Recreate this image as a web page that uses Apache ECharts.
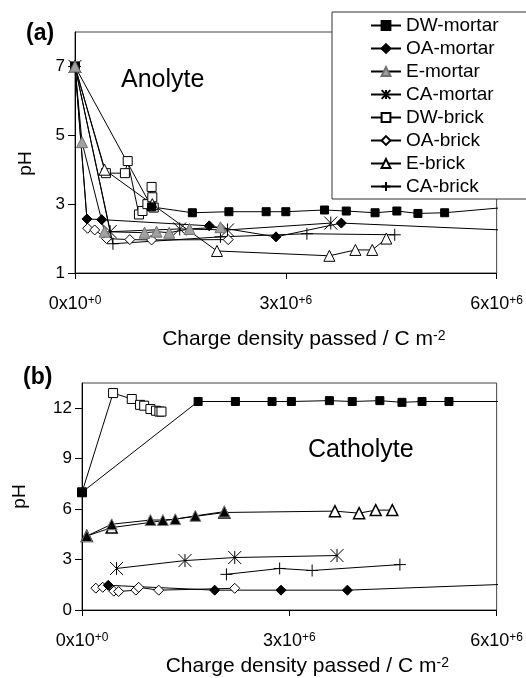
<!DOCTYPE html>
<html>
<head>
<meta charset="utf-8">
<script src="https://cdn.jsdelivr.net/npm/echarts@6/dist/echarts.min.js"></script>
<style>
  html, body { margin: 0; padding: 0; background: #fff; }
  #chart { width: 526px; height: 678px; }
</style>
</head>
<body>
<div id="chart"></div>
<script>
// x values in units of 1e6 C m^-2, y values are pH

// tick labels
const xTickBase = [0, 3, 6];
const xTickExp = ["+0", "+6", "+6"];
const yTicksA = [1, 3, 5, 7];
const yTicksB = [0, 3, 6, 9, 12];

const seriesNames = ["DW-mortar", "OA-mortar", "E-mortar", "CA-mortar", "DW-brick", "OA-brick", "E-brick", "CA-brick"];

// (a) anolyte
const dwMortarA = [[0, 7], [1.09, 2.92], [1.67, 2.75], [2.19, 2.78], [2.72, 2.78], [3.0, 2.78], [3.55, 2.83], [3.86, 2.8], [4.27, 2.75], [4.58, 2.8], [4.88, 2.73], [5.26, 2.75]];
const dwMortarATail = [6.1, 2.9];
const oaMortarA = [[0, 7], [0.17, 2.57], [0.38, 2.55], [1.91, 2.37], [2.86, 2.05], [3.79, 2.45]];
const oaMortarATail = [6.07, 2.25];
const eMortarA = [[0, 7], [0.1, 4.8], [0.42, 2.2], [0.99, 2.17], [1.16, 2.2], [1.34, 2.17], [1.63, 2.28], [2.07, 2.33]];
const caMortarA = [[0, 7], [0.5, 2.2], [1.49, 2.28], [2.17, 2.25], [3.64, 2.45]];
const dwBrickA = [[0, 7], [0.44, 3.9], [0.71, 3.9], [0.75, 4.25], [0.91, 2.7], [0.96, 2.8], [1.03, 3.0], [1.09, 3.5], [1.1, 3.2], [1.12, 2.9]];
const oaBrickA = [[0, 7], [0.18, 2.3], [0.28, 2.25], [0.45, 2.0], [0.78, 1.97], [1.09, 1.96], [2.18, 1.97]];
const eBrickA = [[0, 7], [0.42, 4.0], [1.1, 3.0], [2.02, 1.64], [3.62, 1.5], [3.99, 1.67], [4.23, 1.67], [4.43, 2.0]];
const caBrickA = [[0, 7], [0.54, 1.85], [2.07, 2.05], [3.3, 2.14], [4.55, 2.11]];

// (b) catholyte
const dwMortarB = [[0, 7], [1.68, 12.4], [2.22, 12.4], [2.75, 12.4], [3.03, 12.4], [3.58, 12.45], [3.91, 12.4], [4.31, 12.45], [4.63, 12.35], [4.92, 12.4], [5.31, 12.4]];
const dwMortarBTail = [6.14, 12.4];
const oaMortarB = [[0.38, 1.47], [1.92, 1.18], [2.88, 1.18], [3.84, 1.18]];
const oaMortarBTail = [6.13, 1.53];
const eMortarB = [[0.07, 4.4], [0.43, 5.1], [0.99, 5.35], [1.17, 5.35], [1.35, 5.4], [1.64, 5.6], [2.06, 5.85]];
const caMortarB = [[0.5, 2.47], [1.49, 2.94], [2.21, 3.12], [3.69, 3.24]];
const dwBrickB = [[0, 7], [0.45, 12.9], [0.72, 12.55], [0.84, 12.2], [0.9, 12.15], [0.99, 11.95], [1.07, 11.85], [1.12, 11.8], [1.15, 11.8]];
const oaBrickB = [[0.2, 1.3], [0.3, 1.35], [0.46, 1.12], [0.53, 1.1], [0.78, 1.18], [0.82, 1.35], [1.11, 1.18], [2.21, 1.29]];
const eBrickB = [[0.07, 4.4], [0.43, 4.9], [2.06, 5.8], [3.66, 5.88], [4.01, 5.76], [4.25, 5.94], [4.49, 5.94]];
const caBrickB = [[2.09, 2.12], [2.86, 2.47], [3.33, 2.35], [4.6, 2.7]];

const FONT = "'Liberation Sans', Arial, Helvetica, sans-serif";
const ASTERISK = "path://M0 0L12 12M12 0L0 12M6 0L6 12";
const PLUS = "path://M6 0L6 12M0 6L12 6";

const marker = {
  "DW-mortar": { symbol: "rect", symbolSize: 8, itemStyle: { color: "#000", borderColor: "#000", borderWidth: 1 } },
  "OA-mortar": { symbol: "diamond", symbolSize: 10, itemStyle: { color: "#000", borderColor: "#000", borderWidth: 1 } },
  "E-mortar": { symbol: "triangle", symbolSize: 11, itemStyle: { color: "#a0a0a0", borderColor: "#707070", borderWidth: 1 } },
  "CA-mortar": { symbol: ASTERISK, symbolSize: 13, itemStyle: { color: "#000", borderColor: "#000", borderWidth: 1 } },
  "DW-brick": { symbol: "rect", symbolSize: 9, itemStyle: { color: "#fff", borderColor: "#000", borderWidth: 1 } },
  "OA-brick": { symbol: "diamond", symbolSize: 10, itemStyle: { color: "#fff", borderColor: "#000", borderWidth: 1 } },
  "E-brick": { symbol: "triangle", symbolSize: 11, itemStyle: { color: "#fff", borderColor: "#000", borderWidth: 1 } },
  "CA-brick": { symbol: PLUS, symbolSize: 12, itemStyle: { color: "#000", borderColor: "#000", borderWidth: 1 } }
};

function makeSeries(name, data, idx, tail, styleOverride) {
  const pts = data.slice();
  if (tail) pts.push({ value: tail, symbol: "none" });
  const m = marker[name];
  return {
    name: name,
    type: "line",
    xAxisIndex: idx,
    yAxisIndex: idx,
    data: pts,
    symbol: m.symbol,
    symbolSize: m.symbolSize,
    showAllSymbol: true,
    clip: false,
    lineStyle: { color: "#000", width: 1 },
    itemStyle: styleOverride || m.itemStyle,
    emphasis: { disabled: true }
  };
}

function xAxisOpt(idx, nameGap) {
  return {
    gridIndex: idx,
    type: "value",
    min: 0,
    max: 6,
    interval: 3,
    axisLine: { lineStyle: { color: "#000", width: 1 } },
    axisTick: { inside: false, length: 6, lineStyle: { color: "#000" } },
    splitLine: { show: false },
    axisLabel: {
      margin: 22,
      color: "#000",
      fontFamily: FONT,
      formatter: function (v) {
        const i = xTickBase.indexOf(v);
        return "{b|" + v + "x10}{s|" + (i >= 0 ? xTickExp[i] : "") + "}";
      },
      rich: {
        b: { fontSize: 18, fontFamily: FONT, color: "#000" },
        s: { fontSize: 12, fontFamily: FONT, color: "#000", verticalAlign: "top" }
      }
    },
    name: "{b|Charge density passed / C m}{s|-2}",
    nameLocation: "middle",
    nameGap: nameGap,
    nameTextStyle: {
      padding: [0, 0, 0, 36],
      rich: {
        b: { fontSize: 21, fontFamily: FONT, color: "#000" },
        s: { fontSize: 14, fontFamily: FONT, color: "#000", verticalAlign: "top" }
      }
    }
  };
}

function yAxisOpt(idx, min, max, ticks, nameGap, namePad) {
  return {
    gridIndex: idx,
    type: "value",
    min: min,
    max: max,
    axisLine: { show: true, lineStyle: { color: "#000", width: 1 } },
    axisTick: { show: true, inside: false, length: 7, customValues: ticks, lineStyle: { color: "#000" } },
    splitLine: { show: false },
    axisLabel: { customValues: ticks, margin: 10, color: "#000", fontSize: 17, fontFamily: FONT },
    name: "pH",
    nameLocation: "middle",
    nameGap: nameGap,
    nameTextStyle: { color: "#000", fontSize: 19, fontFamily: FONT, padding: namePad }
  };
}

const chart = echarts.init(document.getElementById("chart"), null, { renderer: "canvas" });
chart.setOption({
  animation: false,
  backgroundColor: "#fff",
  textStyle: { fontFamily: FONT },
  grid: [
    { left: 75, top: 32, width: 424, height: 241, show: true, borderColor: "#444", borderWidth: 1 },
    { left: 82, top: 383, width: 418, height: 230, show: true, borderColor: "#444", borderWidth: 1 }
  ],
  xAxis: [xAxisOpt(0, 56), xAxisOpt(1, 46)],
  yAxis: [yAxisOpt(0, 1, 8, yTicksA, 40, [0, 22, 0, 0]), yAxisOpt(1, 0, 13.5, yTicksB, 53, 0)],
  legend: {
    data: seriesNames,
    orient: "vertical",
    left: 332,
    top: 12,
    padding: [4, 30, 3, 38],
    itemGap: 4,
    itemWidth: 30,
    itemHeight: 11,
    backgroundColor: "#fff",
    borderColor: "#333",
    borderWidth: 1,
    selectedMode: false,
    textStyle: { fontSize: 19, lineHeight: 19, color: "#000", fontFamily: FONT },
    z: 10
  },
  graphic: [
    { type: "text", left: 26, top: 22, style: { text: "(a)", font: "bold 23px " + FONT, fill: "#000" } },
    { type: "text", left: 23, top: 366, style: { text: "(b)", font: "bold 23px " + FONT, fill: "#000" } },
    { type: "text", left: 121, top: 68, style: { text: "Anolyte", font: "25px " + FONT, fill: "#000" } },
    { type: "text", left: 308, top: 438, style: { text: "Catholyte", font: "25px " + FONT, fill: "#000" } }
  ],
  // brick series first so the mortar markers sit on top, as in the figure
  series: [
    makeSeries("DW-brick", dwBrickA, 0),
    makeSeries("OA-brick", oaBrickA, 0),
    makeSeries("E-brick", eBrickA, 0),
    makeSeries("CA-brick", caBrickA, 0),
    makeSeries("CA-mortar", caMortarA, 0),
    makeSeries("OA-mortar", oaMortarA, 0, oaMortarATail),
    makeSeries("DW-mortar", dwMortarA, 0, dwMortarATail),
    makeSeries("E-mortar", eMortarA, 0),
    makeSeries("DW-brick", dwBrickB, 1),
    makeSeries("OA-brick", oaBrickB, 1),
    makeSeries("E-brick", eBrickB, 1, null, { color: "#fff", borderColor: "#000", borderWidth: 1.5 }),
    makeSeries("CA-brick", caBrickB, 1),
    makeSeries("CA-mortar", caMortarB, 1),
    makeSeries("OA-mortar", oaMortarB, 1, oaMortarBTail),
    makeSeries("DW-mortar", dwMortarB, 1, dwMortarBTail),
    makeSeries("E-mortar", eMortarB, 1, null, { color: "#000", borderColor: "#808080", borderWidth: 1 })
  ]
});
</script>
</body>
</html>
